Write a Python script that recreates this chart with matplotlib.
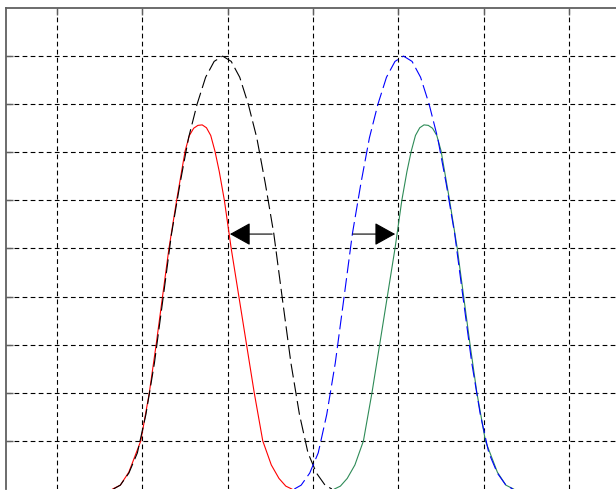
import matplotlib
matplotlib.use("Agg")
import matplotlib.pyplot as plt

# grid positions (no tick labels shown)
x_ticks = [-3, -2, -1, 0, 1, 2, 3]
y_ticks = [0.1, 0.2, 0.3, 0.4, 0.5, 0.6, 0.7, 0.8, 0.9]

# black dashed curve (left, tall)
black_x = [-2.34, -2.26, -2.16, -2.06, -1.96, -1.86, -1.76, -1.66, -1.56, -1.46, -1.36, -1.26, -1.16, -1.06,
           -0.96, -0.86, -0.76, -0.66, -0.56, -0.46, -0.36, -0.26, -0.16, -0.06, 0.04, 0.14, 0.22]
black_y = [0.0, 0.008, 0.033, 0.075, 0.155, 0.262, 0.395, 0.53, 0.635, 0.73, 0.80, 0.856, 0.889, 0.90,
           0.889, 0.856, 0.80, 0.73, 0.635, 0.53, 0.395, 0.262, 0.155, 0.075, 0.033, 0.008, 0.0]

# blue dashed curve (right, tall)
blue_x = [-0.22, -0.14, -0.04, 0.06, 0.16, 0.26, 0.36, 0.46, 0.56, 0.66, 0.76, 0.86, 0.96, 1.06,
          1.16, 1.26, 1.36, 1.46, 1.56, 1.66, 1.76, 1.86, 1.96, 2.06, 2.16, 2.26, 2.34]
blue_y = [0.0, 0.008, 0.033, 0.075, 0.155, 0.262, 0.395, 0.53, 0.635, 0.73, 0.80, 0.856, 0.889, 0.90,
          0.889, 0.856, 0.80, 0.73, 0.635, 0.53, 0.395, 0.262, 0.155, 0.075, 0.033, 0.008, 0.0]

# red solid curve (left, shifted)
red_x = [-2.35, -2.26, -2.16, -2.02, -1.92, -1.84, -1.765, -1.69, -1.60, -1.50, -1.45, -1.40, -1.35, -1.30,
         -1.25, -1.20, -1.15, -1.10, -1.04, -0.96, -0.87, -0.78, -0.69, -0.59, -0.49, -0.40, -0.32, -0.25]
red_y = [0.0, 0.008, 0.035, 0.10, 0.20, 0.30, 0.40, 0.50, 0.60, 0.703, 0.735, 0.750, 0.756, 0.757,
         0.751, 0.735, 0.702, 0.66, 0.60, 0.50, 0.40, 0.30, 0.20, 0.10, 0.05, 0.022, 0.006, 0.0]

# green solid curve (right, shifted)
green_x = [0.25, 0.32, 0.40, 0.49, 0.59, 0.69, 0.78, 0.87, 0.96, 1.04, 1.10, 1.15, 1.20, 1.25,
           1.30, 1.35, 1.40, 1.45, 1.50, 1.60, 1.69, 1.765, 1.84, 1.92, 2.02, 2.16, 2.26, 2.35]
green_y = [0.0, 0.006, 0.022, 0.05, 0.10, 0.20, 0.30, 0.40, 0.50, 0.60, 0.66, 0.702, 0.735, 0.751,
           0.757, 0.756, 0.750, 0.735, 0.703, 0.60, 0.50, 0.40, 0.30, 0.20, 0.10, 0.035, 0.008, 0.0]

# arrows: (tail x, tip x) at a common height
arrow_y = 0.53
left_arrow = (-0.48, -0.975)
right_arrow = (0.465, 0.962)

plt.rcParams['lines.scale_dashes'] = False

W, H = 616, 490
fig = plt.figure(figsize=(W / 100, H / 100), dpi=100)
ax = fig.add_axes([6 / W, 1 / H, 614.2 / W, 481 / H])
ax.set_xlim(-3.6, 3.6)
ax.set_ylim(0, 1)

ax.set_xticks(x_ticks)
ax.set_yticks(y_ticks)
ax.set_xticklabels([])
ax.set_yticklabels([])
ax.tick_params(axis='both', direction='in', length=5, width=1.0, color='#606060',
               top=True, bottom=False, left=True, right=False)
ax.grid(True, color='black', linewidth=0.8, linestyle=(0, (3.4, 2.4)))
ax.set_axisbelow(True)

for side in ['right', 'bottom']:
    ax.spines[side].set_visible(False)
for side in ['left', 'top']:
    ax.spines[side].set_color('#606060')
    ax.spines[side].set_linewidth(1.3)

ax.plot(red_x, red_y, color='#ff0000', lw=0.8, zorder=3)
ax.plot(green_x, green_y, color='#2e8b57', lw=0.8, zorder=3)
ax.plot(black_x, black_y, color='black', lw=0.8, linestyle=(0, (10, 3.6)), zorder=4)
ax.plot(blue_x, blue_y, color='#0000ff', lw=0.8, linestyle=(0, (10, 3.6)), zorder=4)

for tail, tip in [left_arrow, right_arrow]:
    ax.annotate('', xy=(tip, arrow_y), xytext=(tail, arrow_y),
                arrowprops=dict(arrowstyle='-|>,head_length=0.65,head_width=0.36',
                                mutation_scale=20, color='black', lw=0.8,
                                shrinkA=0, shrinkB=0), zorder=5)

fig.savefig('out.png', dpi=100)
